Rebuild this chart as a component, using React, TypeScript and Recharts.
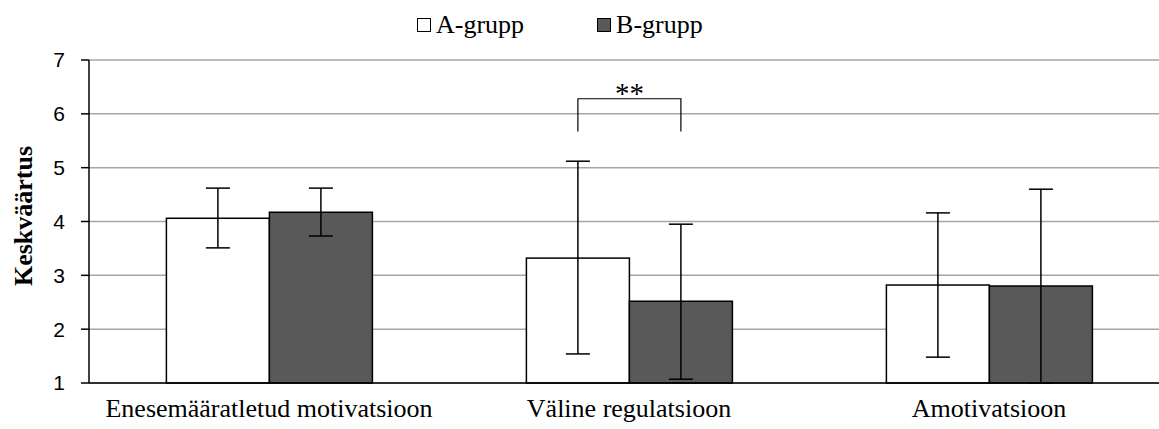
import { BarChart, Bar, XAxis, YAxis, CartesianGrid, ErrorBar } from "recharts"

const categories = ["Enesemääratletud motivatsioon", "Väline regulatsioon", "Amotivatsioon"]
const groupNames = ["A-grupp", "B-grupp"]

const aMean = [4.06, 3.32, 2.82]
const aLow = [3.51, 1.54, 1.48]
const aHigh = [4.62, 5.12, 4.16]

const bMean = [4.17, 2.52, 2.8]
const bLow = [3.73, 1.07, 1.0]
const bHigh = [4.62, 3.95, 4.6]

const yTicks = [1, 2, 3, 4, 5, 6, 7]

// significance bracket between A and B in "Väline regulatsioon"
const sigIndex = 1
const sigLow = 5.67
const sigHigh = 6.28
const sigText = "**"

const data = categories.map((name, i) => ({
  name,
  a: aMean[i],
  b: bMean[i],
  aErr: [aMean[i] - aLow[i], aHigh[i] - aMean[i]],
  bErr: [bMean[i] - bLow[i], bHigh[i] - bMean[i]],
}))

const serif = "'Liberation Serif', 'Times New Roman', serif"
const sans = "'Liberation Sans', Arial, sans-serif"

function ABarShape(props: any) {
  const { x, y, width, height, index, payload } = props
  const base = y + height
  const perUnit = height / (payload.a - 1)
  const toPx = (v: number) => base - (v - 1) * perUnit
  return (
    <g>
      <rect x={x} y={y} width={width} height={height} fill="#ffffff" stroke="#000" strokeWidth={1.5} />
      {index === sigIndex && (
        <g>
          <path
            d={`M${x + width / 2},${toPx(sigLow)} V${toPx(sigHigh)} H${x + width * 1.5} V${toPx(sigLow)}`}
            fill="none"
            stroke="#000"
            strokeWidth={1.2}
          />
          <text x={x + width} y={toPx(sigHigh) + 4} textAnchor="middle" fontFamily={serif} fontSize={29} fill="#000">
            {sigText}
          </text>
        </g>
      )}
    </g>
  )
}

function Legend() {
  const items = [
    { name: groupNames[0], fill: "#ffffff" },
    { name: groupNames[1], fill: "#595959" },
  ]
  return (
    <div style={{ position: "absolute", left: 417, top: 9, display: "flex", gap: 73, fontFamily: serif, fontSize: 26, lineHeight: "32px" }}>
      {items.map((it) => (
        <div key={it.name} style={{ display: "flex", alignItems: "center" }}>
          <span style={{ display: "inline-block", width: 12, height: 12, border: "1.5px solid #000", background: it.fill, marginRight: 5 }} />
          <span>{it.name}</span>
        </div>
      ))}
    </div>
  )
}

export default function App() {
  return (
    <div style={{ position: "absolute", left: 0, top: 0, width: 1159, height: 429, background: "#fff", overflow: "hidden" }}>
      <BarChart
        width={1159}
        height={429}
        data={data}
        margin={{ top: 60, right: -10, bottom: 16, left: 0 }}
        barCategoryGap="21.5%"
        barGap={0}
      >
        <CartesianGrid vertical={false} stroke="#a6a6a6" strokeWidth={1.5} />
        <XAxis
          dataKey="name"
          height={30}
          axisLine={{ stroke: "#000", strokeWidth: 1.5 }}
          tickLine={false}
          tick={{ fill: "#000", fontFamily: serif, fontSize: 26 }}
          tickMargin={10}
          interval={0}
        />
        <YAxis
          width={89}
          domain={[1, 7]}
          ticks={yTicks}
          axisLine={{ stroke: "#000", strokeWidth: 1.5 }}
          tickLine={{ stroke: "#000", strokeWidth: 1.5 }}
          tickSize={8}
          tickMargin={16}
          tick={{ fill: "#000", fontFamily: sans, fontSize: 21 }}
          label={{
            content: () => (
              <text
                transform="translate(32,216) rotate(-90)"
                textAnchor="middle"
                fontFamily={serif}
                fontWeight="bold"
                fontSize={26}
                fill="#000"
              >
                Keskväärtus
              </text>
            ),
          }}
        />
        <Bar dataKey="a" name={groupNames[0]} fill="#ffffff" shape={<ABarShape />} isAnimationActive={false}>
          <ErrorBar dataKey="aErr" direction="y" width={12} stroke="#000" strokeWidth={1.5} />
        </Bar>
        <Bar dataKey="b" name={groupNames[1]} fill="#595959" stroke="#000" strokeWidth={1.5} isAnimationActive={false}>
          <ErrorBar dataKey="bErr" direction="y" width={12} stroke="#000" strokeWidth={1.5} />
        </Bar>
      </BarChart>
      <Legend />
    </div>
  )
}
